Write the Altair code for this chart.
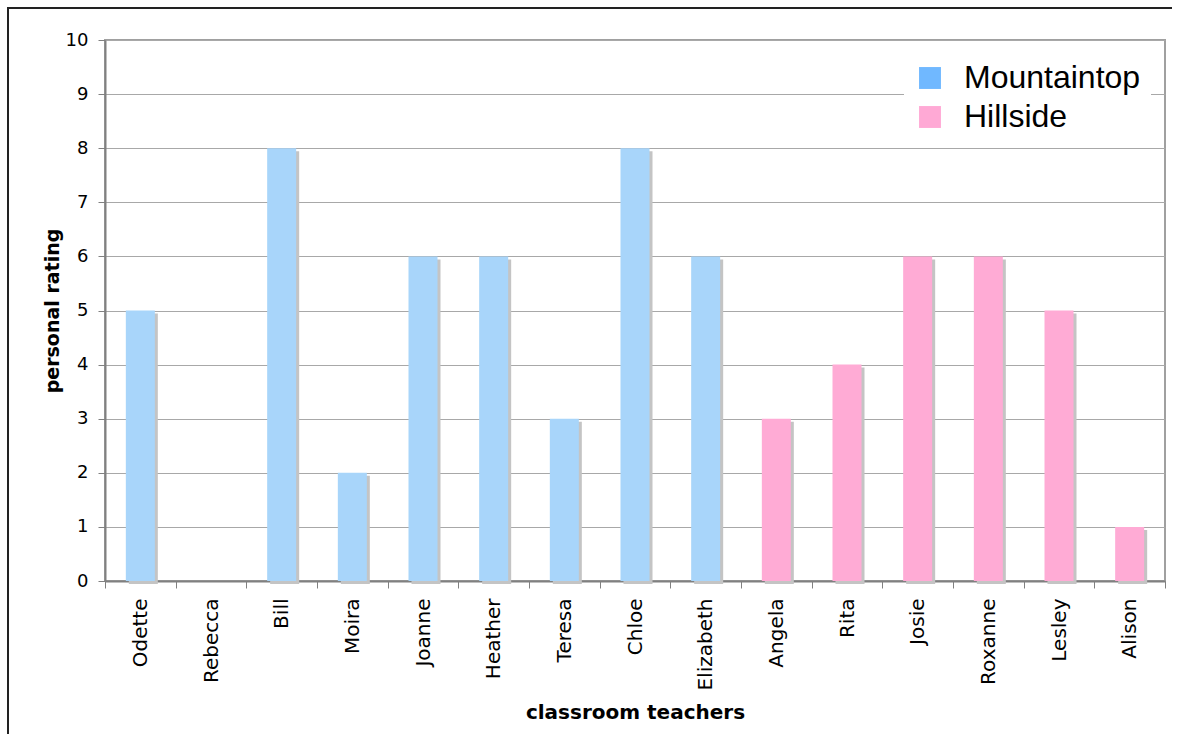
import altair as alt
import pandas as pd

# Ratings per classroom teacher, grouped by school
teachers = ["Odette", "Rebecca", "Bill", "Moira", "Joanne", "Heather", "Teresa",
            "Chloe", "Elizabeth", "Angela", "Rita", "Josie", "Roxanne", "Lesley", "Alison"]
ratings = [5, 0, 8, 2, 6, 6, 3, 8, 6, 3, 4, 6, 6, 5, 1]
schools = ["Mountaintop"] * 9 + ["Hillside"] * 6

school_order = ["Mountaintop", "Hillside"]
bar_colors = ["#a8d5fa", "#ffabd5"]
legend_colors = ["#70b8ff", "#ffa9d5"]

df = pd.DataFrame({"teacher": teachers, "rating": ratings, "school": schools})

W, H = 1060, 541
PAD = {"left": 105, "top": 40, "right": 13, "bottom": 161}
FONT = "DejaVu Sans"

x_enc = alt.X(
    "teacher:N",
    sort=teachers,
    title="classroom teachers",
    axis=alt.Axis(
        labelAngle=270, labelAlign="right", labelBaseline="middle",
        labelFont=FONT, labelFontSize=20, labelColor="black", labelPadding=10,
        tickBand="extent", tickSize=7, tickColor="#808080", tickWidth=1,
        domainColor="#808080", domainWidth=2,
        titleFont=FONT, titleFontSize=20, titleFontWeight="bold", titleColor="black",
        titleY=131, titleBaseline="middle",
    ),
    scale=alt.Scale(paddingInner=0, paddingOuter=0),
)
y_enc = alt.Y(
    "rating:Q",
    title="personal rating",
    scale=alt.Scale(domain=[0, 10], nice=False),
    axis=alt.Axis(
        values=list(range(11)), format="d",
        labelFont=FONT, labelFontSize=18, labelColor="black", labelPadding=10,
        tickSize=7, tickColor="#808080", tickWidth=1,
        domainColor="#808080", domainWidth=2,
        grid=True, gridColor="#a8a8a8", gridWidth=1,
        titleFont=FONT, titleFontSize=19, titleFontWeight="bold", titleColor="black",
        titleAngle=270, titleAlign="center", titleBaseline="middle",
        titleX=-53, titleY=H / 2,
    ),
)

base = alt.Chart(df)

# drop shadow behind each bar
shadow = base.transform_filter("datum.rating > 0").mark_bar(
    color="#c4c4c4", width=29, xOffset=3, yOffset=3, y2Offset=0
).encode(x=x_enc, y=y_enc)

bars = base.mark_bar(width=29).encode(
    x=x_enc,
    y=y_enc,
    color=alt.Color("school:N", scale=alt.Scale(domain=school_order, range=bar_colors), legend=None),
)

# invisible marks that carry the school legend
legend_layer = base.mark_square(opacity=0).encode(
    x=alt.X("teacher:N", sort=teachers),
    y="rating:Q",
    color=alt.Color(
        "school:N",
        scale=alt.Scale(domain=school_order, range=legend_colors),
        legend=alt.Legend(
            title=None, orient="none", legendX=799, legendY=12,
            symbolType="square", symbolSize=480, symbolStrokeWidth=0, symbolOpacity=1,
            labelFont="Liberation Sans", labelFontSize=32, labelColor="black",
            labelOffset=18, rowPadding=7, padding=10, fillColor="white",
            labelLimit=400,
        ),
    ),
)

# figure border: left and top edges
frame_data = alt.Data(values=[{}])
frame_left = alt.Chart(frame_data).mark_rule(color="#222222", strokeWidth=2).encode(
    x=alt.value(8 - PAD["left"]), y=alt.value(7 - PAD["top"]), y2=alt.value(H + PAD["bottom"] - 8)
)
frame_top = alt.Chart(frame_data).mark_rule(color="#222222", strokeWidth=2).encode(
    x=alt.value(7 - PAD["left"]), x2=alt.value(W + PAD["right"] - 6), y=alt.value(8 - PAD["top"])
)

chart = alt.layer(frame_left, frame_top, shadow, bars, legend_layer).resolve_scale(
    color="independent"
).properties(
    width=W, height=H,
    autosize=alt.AutoSizeParams(type="none"),
    padding=PAD,
    background="white",
).configure_view(stroke="#a0a0a0", strokeWidth=2)

chart.save("out.html", embed_options={"renderer": "svg", "actions": False})
